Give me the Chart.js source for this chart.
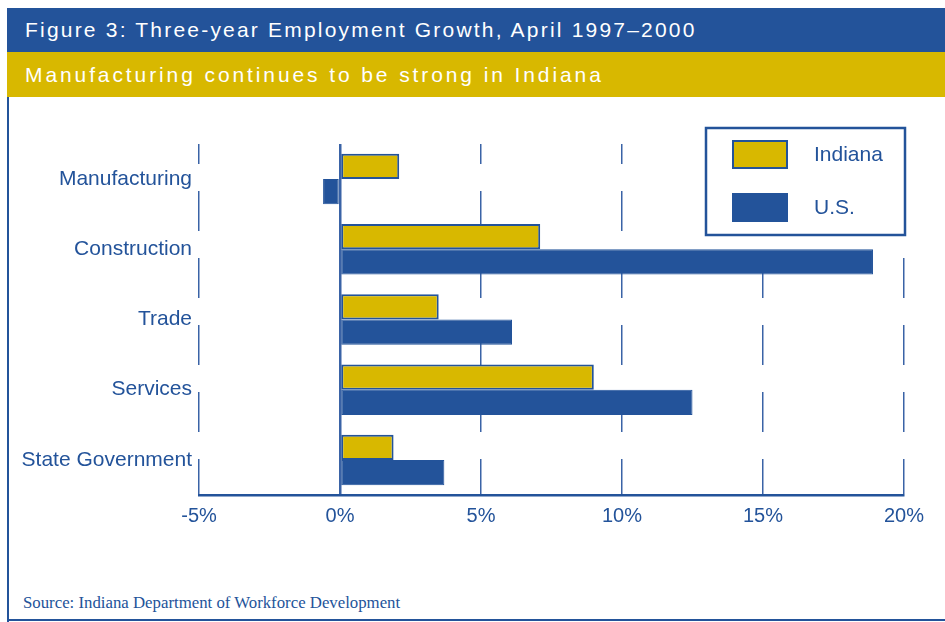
<!DOCTYPE html>
<html>
<head>
<meta charset="utf-8">
<script src="https://cdn.jsdelivr.net/npm/chart.js@4"></script>
<style>
  html, body { margin: 0; padding: 0; background: #fff; }
  body { width: 945px; height: 622px; position: relative; overflow: hidden; font-family: "Liberation Sans", Arial, sans-serif; }
  .bar1 { position: absolute; left: 7px; top: 8px; width: 938px; height: 44px; background: #23539a; }
  .bar2 { position: absolute; left: 7px; top: 52px; width: 938px; height: 45px; background: #d8b800; }
  .bar1 span, .bar2 span { position: absolute; left: 18px; top: 50%; transform: translateY(-50%); color: #fff; font-size: 21px; white-space: nowrap; }
  .bar1 span { letter-spacing: 2.2px; }
  .bar2 span { letter-spacing: 2.9px; }
  .edge-left { position: absolute; left: 7px; top: 97px; width: 2px; height: 525px; background: #23539a; }
  .edge-bottom { position: absolute; left: 7px; top: 619px; width: 938px; height: 2px; background: #23539a; }
  .source { position: absolute; left: 23px; top: 593px; font-family: "Liberation Serif", "Times New Roman", serif; font-size: 16.8px; color: #23539a; white-space: nowrap; }
  #wrap { position: absolute; left: 0; top: 97px; width: 945px; height: 490px; }
</style>
</head>
<body>
<div class="bar1"><span>Figure 3: Three-year Employment Growth, April 1997–2000</span></div>
<div class="bar2"><span>Manufacturing continues to be strong in Indiana</span></div>
<div class="edge-left"></div>
<div class="edge-bottom"></div>
<div class="source">Source: Indiana Department of Workforce Development</div>
<div id="wrap"><canvas id="chart"></canvas></div>
<script>
// three-year employment growth, percent
const sectors = ["Manufacturing", "Construction", "Trade", "Services", "State Government"];
const indiana = [2.1, 7.1, 3.5, 9.0, 1.9];
const us = [-0.6, 18.9, 6.1, 12.5, 3.7];
const tickValues = [-5, 0, 5, 10, 15, 20];

const blue = "#23539a";
const gold = "#d8b800";

// legend drawn as a framed box in the upper right
const boxLegend = {
  id: "boxLegend",
  afterDraw(chart) {
    const ctx = chart.ctx;
    ctx.save();
    ctx.fillStyle = "#fff";
    ctx.fillRect(706, 31, 199, 107);
    ctx.strokeStyle = blue;
    ctx.lineWidth = 2.5;
    ctx.strokeRect(706, 31, 199, 107);
    chart.data.datasets.forEach((ds, i) => {
      let y = 44 + i * 53;
      ctx.fillStyle = ds.backgroundColor;
      ctx.fillRect(733, y, 54, 27);
      ctx.strokeStyle = blue;
      ctx.lineWidth = 2;
      ctx.strokeRect(733, y, 54, 27);
      ctx.fillStyle = blue;
      ctx.font = "21px 'Liberation Sans', Arial, sans-serif";
      ctx.textBaseline = "middle";
      ctx.fillText(ds.label, 814, y + 14);
    });
    ctx.restore();
  }
};

let mychart = document.getElementById("chart").getContext("2d");
let chart = new Chart(mychart, {
  type: "bar",
  data: {
    labels: sectors,
    datasets: [
      {
        label: "Indiana",
        data: indiana,
        backgroundColor: gold,
        borderColor: blue,
        borderWidth: 2,
        borderSkipped: false,
      },
      {
        label: "U.S.",
        data: us,
        backgroundColor: blue,
        borderColor: blue,
        borderWidth: 1,
        borderSkipped: false,
      },
    ],
  },
  options: {
    indexAxis: "y",
    responsive: true,
    maintainAspectRatio: false,
    animation: false,
    categoryPercentage: 0.72,
    barPercentage: 1,
    layout: { padding: { left: 0, right: 41, top: 47, bottom: 52 } },
    plugins: { legend: { display: false }, tooltip: { enabled: false } },
    scales: {
      x: {
        min: -5,
        max: 20,
        afterBuildTicks: (s) => { s.ticks = tickValues.map((v) => ({ value: v })); },
        afterFit: (s) => { s.height = 40; },
        ticks: {
          color: blue,
          padding: 9,
          font: { size: 20, family: "'Liberation Sans', Arial, sans-serif" },
          callback: (v) => v + "%",
        },
        grid: {
          drawTicks: false,
          color: "#3a63a6",
          lineWidth: (c) => (c.tick && c.tick.value === 0 ? 2.5 : 1.5),
        },
        border: {
          display: true,
          color: blue,
          width: 2.5,
          dash: (c) => (c.tick && c.tick.value === 0 ? [] : [40, 27]),
          dashOffset: 20,
        },
      },
      y: {
        afterFit: (s) => { s.width = 199; },
        ticks: {
          color: blue,
          padding: 7,
          font: { size: 21, family: "'Liberation Sans', Arial, sans-serif" },
        },
        grid: { display: false, drawTicks: false },
        border: { display: false },
      },
    },
  },
  plugins: [boxLegend],
});
</script>
</body>
</html>
